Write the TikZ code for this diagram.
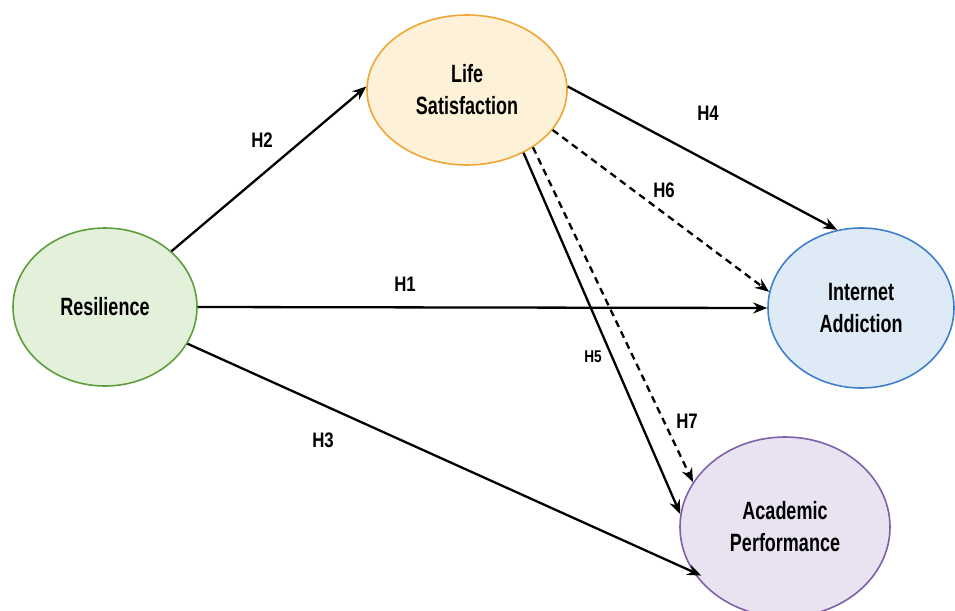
\documentclass[tikz,border=0pt]{standalone}
\usepackage{fontspec}
\newfontfamily\labfont[FakeStretch=0.72]{Liberation Sans Bold}
\newfontfamily\hfont[FakeStretch=0.8]{Liberation Sans Bold}
\usetikzlibrary{shapes.geometric,arrows.meta}
\definecolor{resfill}{HTML}{E4F1DA}
\definecolor{resline}{HTML}{5E9E3E}
\definecolor{lifefill}{HTML}{FDF1D8}
\definecolor{lifeline}{HTML}{EFA636}
\definecolor{iafill}{HTML}{DEEAF6}
\definecolor{ialine}{HTML}{3F7FCB}
\definecolor{apfill}{HTML}{E8E2F1}
\definecolor{apline}{HTML}{7E62A9}
\tikzset{
  construct/.style={ellipse, draw, line width=1.6pt, inner sep=0pt, align=center,
    font=\labfont\fontsize{25}{32}\selectfont},
  path/.style={line width=2.3pt, -{Stealth[length=14pt,width=11pt]}},
  dpath/.style={path, dash pattern=on 7pt off 5pt},
  hlab/.style={font=\hfont\fontsize{21}{22}\selectfont},
}
\begin{document}
\begin{tikzpicture}[x=1pt,y=-1pt]
\useasboundingbox (0,0) rectangle (955,610);
\clip (0,0) rectangle (955,610);
\fill[white] (0,0) rectangle (955,610);
\node[construct, fill=resfill, draw=resline, minimum width=184pt, minimum height=158pt] (res) at (105,307) {Resilience};
\node[construct, fill=lifefill, draw=lifeline, minimum width=200pt, minimum height=150pt] (life) at (467,90) {Life\\Satisfaction};
\node[construct, fill=iafill, draw=ialine, minimum width=186pt, minimum height=160pt] (ia) at (861,308) {Internet\\Addiction};
\node[construct, fill=apfill, draw=apline, minimum width=210pt, minimum height=180pt] (ap) at (785,527) {Academic\\Performance};

\draw[path] (res.40) -- (life.178);
\draw[path] (res.east) -- (ia.west);
\draw[path, shorten >=-9pt] (res.-24) -- (ap.206);
\draw[path] (life.2) -- (ia.107);
\draw[dpath] (life.-25) -- (ia.170);
\draw[path] (life.-48) -- (ap.173);
\draw[dpath] (life.-41) -- (ap.154);

\node[hlab] (h2) at (262,140) {H2};
\node[hlab] (h1) at (405,284) {H1};
\node[hlab] (h3) at (323,440) {H3};
\node[hlab] (h4) at (708,113) {H4};
\node[hlab] (h6) at (664,190) {H6};
\node[hlab, font=\hfont\fontsize{17}{19}\selectfont] (h5) at (593,357) {H5};
\node[hlab] (h7) at (687,421) {H7};
\end{tikzpicture}
\end{document}
